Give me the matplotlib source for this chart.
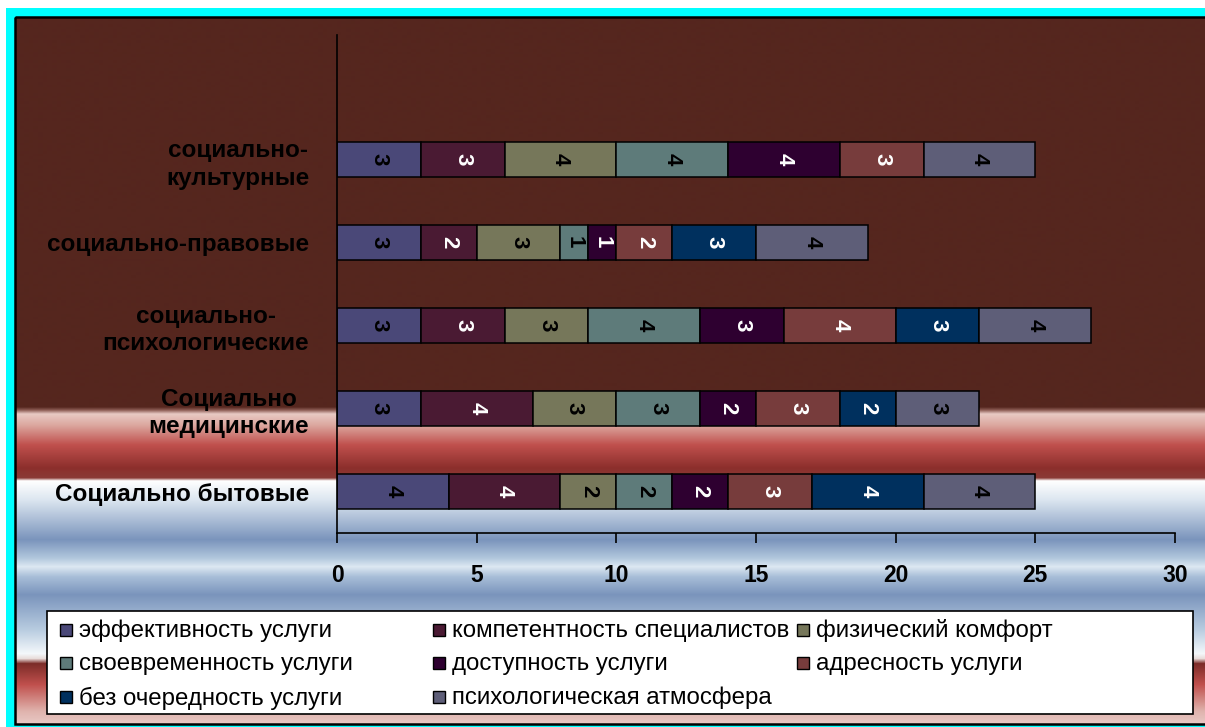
import numpy as np
import matplotlib
matplotlib.use('Agg')
import matplotlib.pyplot as plt
from matplotlib.patches import Rectangle
from matplotlib.colors import to_rgb

categories = ['Социально бытовые', 'Социально\nмедицинские', 'социально-\nпсихологические',
              'социально-правовые', 'социально-\nкультурные']
series = ['эффективность услуги', 'компетентность специалистов', 'физический комфорт',
          'своевременность услуги', 'доступность услуги', 'адресность услуги',
          'без очередность услуги', 'психологическая атмосфера']

# scores per service type, categories in the order above (bottom to top)
effekt = [4, 3, 3, 3, 3]
kompet = [4, 4, 3, 2, 3]
fizkomf = [2, 3, 3, 3, 4]
svoevr = [2, 3, 4, 1, 4]
dostup = [2, 2, 3, 1, 4]
adres = [3, 3, 4, 2, 3]
bez_och = [4, 2, 3, 3, 0]
psih = [4, 3, 4, 4, 4]
values = [effekt, kompet, fizkomf, svoevr, dostup, adres, bez_och, psih]

colors = ['#4a4878', '#4a1a33', '#76775a', '#5e7b7a', '#2e0030', '#773c3c', '#00305e', '#5e5e78']
text_colors = ['black', 'white', 'black', 'black', 'white', 'white', 'white', 'black']

W, H = 1205, 727
plt.rcParams['font.family'] = ['Liberation Sans', 'DejaVu Sans']

fig = plt.figure(figsize=(W / 100, H / 100), dpi=100)
fig.patch.set_facecolor('white')

# background layer in pixel coordinates
bg = fig.add_axes([0, 0, 1, 1], zorder=0)
bg.set_xlim(0, W)
bg.set_ylim(H, 0)
bg.axis('off')

bg.add_patch(Rectangle((6, 8), W, H, facecolor='#00ffff', edgecolor='none'))

# banded fill of the chart area
stops = [
    (17, '#55261e'), (407, '#55261e'), (410, '#8a5a52'), (414, '#e8cac4'),
    (425, '#dca8a0'), (445, '#c0504d'), (468, '#8c2f2c'), (478, '#8a3a36'),
    (481, '#ffffff'), (500, '#dce6f0'), (540, '#7a94bc'), (558, '#b0c6dc'),
    (567, '#dde8f2'), (577, '#a8bed8'), (595, '#7a94bc'), (630, '#b8cce0'),
    (654, '#f4f8fb'), (659, '#e8dcda'), (664, '#7c2c28'), (685, '#c0504d'),
    (712, '#e0b4ae'), (724, '#e8c8c4'),
]
ys = np.arange(17, 725)
sy = [s[0] for s in stops]
rgb = np.array([to_rgb(s[1]) for s in stops])
grad = np.stack([np.interp(ys, sy, rgb[:, k]) for k in range(3)], axis=-1)[:, None, :]
bg.imshow(grad, aspect='auto', extent=[15, W + 5, 724, 17], interpolation='bilinear', zorder=1)
bg.add_patch(Rectangle((15, 17), W, 707, facecolor='none', edgecolor='black', lw=1.8, zorder=2))

# legend box
bg.add_patch(Rectangle((47, 611), 1146, 103, facecolor='white', edgecolor='black', lw=1.2, zorder=3))
col_x = [60, 433, 797]
row_y = [630, 663, 697]
order = [(0, 0), (0, 1), (0, 2), (1, 0), (1, 1), (1, 2), (2, 0), (2, 1)]
for i, (r, c) in enumerate(order):
    x, y = col_x[c], row_y[r]
    bg.add_patch(Rectangle((x, y - 6), 12, 12, facecolor=colors[i], edgecolor='black', lw=1.0, zorder=4))
    bg.text(x + 19, y + 1, series[i], fontsize=17.3, va='center', ha='left', zorder=4)

# stacked bars
ax = fig.add_axes([337 / W, 1 - 533 / H, (1175 - 337) / W, (533 - 35) / H], zorder=1)
ax.patch.set_alpha(0)
ypos = np.arange(len(categories))
left = np.zeros(len(categories))
for i, vals in enumerate(values):
    vals = np.array(vals, dtype=float)
    mask = vals > 0
    ax.barh(ypos[mask], vals[mask], left=left[mask], height=0.42, color=colors[i],
            edgecolor='black', linewidth=1.1)
    for yy, v, l in zip(ypos[mask], vals[mask], left[mask]):
        ax.text(l + v / 2, yy, '%d' % v, rotation=270, ha='center', va='center',
                fontsize=16, fontweight='bold', color=text_colors[i])
    left += vals

ax.set_xlim(0, 30)
ax.set_ylim(-0.5, 5.5)
ax.set_xticks(range(0, 31, 5))
ax.tick_params(axis='x', direction='out', length=7, width=1.2, pad=15, labelsize=16.5)
for t in ax.get_xticklabels():
    t.set_fontweight('bold')
ax.set_yticks(ypos)
ax.set_yticklabels(categories, fontsize=17.5, fontweight='bold', multialignment='center',
                   linespacing=1.25)
ax.tick_params(axis='y', length=0, pad=20)
for side in ['top', 'right']:
    ax.spines[side].set_visible(False)
for side in ['left', 'bottom']:
    ax.spines[side].set_linewidth(1.2)

fig.savefig('out.png', dpi=100)
